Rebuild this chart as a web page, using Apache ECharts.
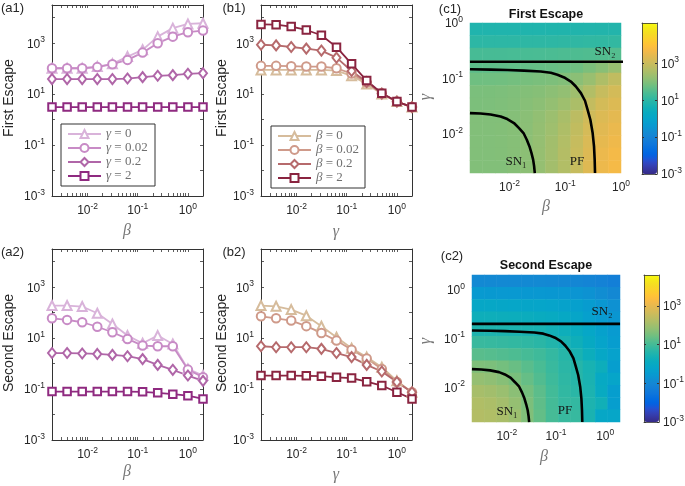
<!DOCTYPE html>
<html>
<head>
<meta charset="utf-8">
<title>First and second escape</title>
<script src="https://cdn.jsdelivr.net/npm/echarts@6.0.0/dist/echarts.min.js"></script>
<style>
    html, body { margin: 0; padding: 0; background: #fff; }
    #chart { width: 685px; height: 486px; }
</style>
</head>
<body>
<div id="chart"></div>
<script>
// parameter values swept in the line panels (beta in a, gamma in b)
var sweep = [0.001953125, 0.00390625, 0.0078125, 0.015625, 0.03125, 0.0625, 0.125, 0.25, 0.5, 1, 2];

var gammaNames = ['γ = 0', 'γ = 0.02', 'γ = 0.2', 'γ = 2'];
var betaNames = ['β = 0', 'β = 0.02', 'β = 0.2', 'β = 2'];

// (a1) first escape vs beta
var a1Gamma0 = [104, 104, 104, 121, 155, 298, 550, 1810, 3900, 5710, 6060];
var a1Gamma002 = [104, 104, 104, 115, 150, 221, 427, 1000, 1810, 2700, 3120];
var a1Gamma02 = [39, 39, 39, 39, 39, 41, 46.5, 52.5, 55.6, 63, 66.5];
var a1Gamma2 = [3.1, 3.1, 3.1, 3.1, 3.1, 3.1, 3.1, 3.1, 3.1, 3.1, 3.1];

// (b1) first escape vs gamma
var b1Beta0 = [89, 89, 89, 89, 89, 84, 52.5, 25, 10.2, 5.1, 3.1];
var b1Beta002 = [129, 129, 125, 121, 121, 104, 64, 28.5, 10.8, 5.1, 3.1];
var b1Beta02 = [870, 820, 710, 613, 513, 270, 81, 30, 10.5, 5.1, 3.1];
var b1Beta2 = [5450, 5350, 4500, 3300, 2050, 700, 155, 34, 10.8, 5.1, 3.1];

// (a2) second escape vs beta
var a2Gamma0 = [190, 190, 174, 95, 36, 12.6, 6.3, 12.6, 5.9, 0.62, 0.34];
var a2Gamma002 = [60, 52, 42, 28, 17, 9.3, 5.1, 4.8, 4.8, 0.58, 0.29];
var a2Gamma02 = [2.6, 2.6, 2.5, 2.4, 2.2, 1.95, 1.5, 0.89, 0.57, 0.34, 0.21];
var a2Gamma2 = [0.08, 0.08, 0.08, 0.08, 0.08, 0.08, 0.078, 0.071, 0.063, 0.055, 0.041];

// (b2) second escape vs gamma
var b2Beta0 = [190, 178, 132, 76, 29.4, 10.9, 4.0, 1.8, 0.72, 0.21, 0.075];
var b2Beta002 = [72, 60, 49, 29.6, 16, 8, 3.5, 1.6, 0.62, 0.19, 0.075];
var b2Beta02 = [4.8, 4.4, 4.4, 4.4, 3.8, 2.6, 1.8, 0.89, 0.49, 0.19, 0.075];
var b2Beta2 = [0.34, 0.34, 0.34, 0.33, 0.32, 0.29, 0.27, 0.195, 0.138, 0.075, 0.041];

// bifurcation curves drawn over the maps (beta, gamma)
var pfBeta = [0.00195, 0.00457, 0.00912, 0.0182, 0.0363, 0.055, 0.0724, 0.0955, 0.126, 0.155, 0.191, 0.226, 0.252, 0.282, 0.31, 0.328, 0.337, 0.342];
var pfGamma = [0.146, 0.144, 0.142, 0.138, 0.133, 0.126, 0.116, 0.104, 0.0877, 0.0713, 0.0541, 0.0394, 0.027, 0.0179, 0.0103, 0.0059, 0.0034, 0.00195];
var sn1Beta = [0.00195, 0.00302, 0.00457, 0.00692, 0.00912, 0.012, 0.0148, 0.0178, 0.0204, 0.0228, 0.0247, 0.0265, 0.0276, 0.0284];
var sn1Gamma = [0.0236, 0.0232, 0.0223, 0.0205, 0.0184, 0.0156, 0.0126, 0.0103, 0.0078, 0.0059, 0.0045, 0.0034, 0.0026, 0.00195];
var sn2Beta = [0.00195, 2];
var sn2Gamma = [0.2, 0.2];

// (c1) log10 of first escape, rows from top (large gamma) to bottom, columns small -> large beta
var firstMapLog10 = [
    [0.82, 0.82, 0.82, 0.82, 0.82, 0.82, 0.83, 0.83, 0.84, 0.85, 0.86, 0.87],
    [1.02, 1.02, 1.02, 1.02, 1.03, 1.03, 1.04, 1.05, 1.06, 1.07, 1.08, 1.09],
    [1.35, 1.35, 1.36, 1.37, 1.38, 1.39, 1.40, 1.42, 1.44, 1.46, 1.48, 1.50],
    [1.60, 1.61, 1.62, 1.64, 1.67, 1.69, 1.71, 1.74, 1.80, 1.95, 2.10, 2.30],
    [1.79, 1.80, 1.82, 1.85, 1.89, 1.92, 1.96, 2.02, 2.12, 2.30, 2.60, 2.85],
    [1.93, 1.94, 1.96, 1.99, 2.03, 2.07, 2.13, 2.22, 2.38, 2.65, 2.95, 3.15],
    [1.95, 1.96, 1.98, 2.02, 2.08, 2.14, 2.23, 2.36, 2.56, 2.90, 3.15, 3.30],
    [2.02, 2.02, 2.02, 2.05, 2.11, 2.21, 2.33, 2.53, 2.80, 3.10, 3.30, 3.42],
    [2.02, 2.02, 2.03, 2.06, 2.12, 2.23, 2.38, 2.60, 2.88, 3.18, 3.38, 3.52],
    [2.02, 2.02, 2.03, 2.07, 2.13, 2.25, 2.42, 2.66, 2.96, 3.26, 3.46, 3.60],
    [2.02, 2.02, 2.03, 2.07, 2.14, 2.26, 2.44, 2.68, 3.00, 3.32, 3.55, 3.69],
    [2.02, 2.02, 2.02, 2.06, 2.13, 2.24, 2.44, 2.65, 2.96, 3.33, 3.57, 3.71]
];

// (c2) log10 of second escape, same layout
var secondMapLog10 = [
    [-0.94, -0.94, -0.94, -0.95, -0.95, -0.96, -0.97, -1.00, -1.04, -1.10, -1.17, -1.24],
    [-0.54, -0.55, -0.56, -0.57, -0.58, -0.59, -0.60, -0.62, -0.66, -0.74, -0.85, -0.98],
    [-0.10, -0.11, -0.13, -0.15, -0.17, -0.20, -0.24, -0.28, -0.36, -0.48, -0.62, -0.76],
    [0.24, 0.23, 0.21, 0.19, 0.16, 0.11, 0.04, -0.05, -0.18, -0.34, -0.50, -0.64],
    [0.52, 0.51, 0.50, 0.48, 0.46, 0.42, 0.34, 0.24, 0.08, -0.12, -0.32, -0.50],
    [0.87, 0.85, 0.82, 0.79, 0.75, 0.68, 0.58, 0.44, 0.26, 0.02, -0.22, -0.45],
    [1.22, 1.19, 1.15, 1.10, 1.03, 0.94, 0.81, 0.64, 0.44, 0.18, -0.10, -0.30],
    [1.62, 1.58, 1.50, 1.38, 1.22, 1.06, 0.87, 0.70, 0.62, 0.42, 0.20, -0.40],
    [1.86, 1.80, 1.70, 1.55, 1.35, 1.14, 0.92, 0.74, 0.64, 0.45, 0.00, -0.20],
    [2.10, 2.03, 1.92, 1.75, 1.50, 1.25, 0.98, 0.78, 0.68, 0.48, 0.05, -0.40],
    [2.22, 2.16, 2.05, 1.86, 1.58, 1.28, 1.00, 0.82, 0.80, 0.50, 0.30, -0.40],
    [2.26, 2.22, 2.14, 1.95, 1.64, 1.32, 1.02, 0.86, 0.85, 0.45, -0.10, -0.15]
];

var escapeTickLabels = [0.001, 0.1, 10, 1000];
var paramTickLabels = [0.01, 0.1, 1];

var sansFont = '"Liberation Sans", Arial, Helvetica, sans-serif';
var serifFont = '"Liberation Serif", "DejaVu Serif", serif';
var ink = '#262626';
var frameColor = '#333333';

var gammaColors = ['#d9b3da', '#c88bc6', '#b066a8', '#8f2a80'];
var betaColors = ['#d6bc9c', '#cf9a8a', '#b66a6c', '#8a2440'];
var markers = ['emptyTriangle', 'emptyCircle', 'emptyDiamond', 'emptyRect'];
var markerSizes = [9, 8.5, [8, 10], 7.5];

var parula = [
    '#352a87', '#363093', '#3637a0', '#353dad', '#3243ba', '#2c4ac7', '#2053d4', '#0f5cdd',
    '#0363e1', '#0268e1', '#046de0', '#0871de', '#0d75dc', '#1079da', '#127dd8', '#1481d6',
    '#1485d4', '#1389d3', '#108ed2', '#0c93d2', '#0998d1', '#079ccf', '#06a0cd', '#06a4ca',
    '#06a7c6', '#07a9c2', '#0aacbe', '#0faeb9', '#15b1b4', '#1db3af', '#25b5a9', '#2eb7a4',
    '#38b99e', '#42bb98', '#4dbc92', '#59bd8c', '#65be86', '#71bf80', '#7cbf7b', '#87bf77',
    '#92bf73', '#9cbf6f', '#a5be6b', '#aebe67', '#b7bd64', '#c0bc60', '#c8bc5d', '#d1bb59',
    '#d9ba56', '#e1b952', '#e9b94e', '#f1b94a', '#f8bb44', '#fdbe3d', '#ffc337', '#fec832',
    '#fcce2e', '#fad32a', '#f7d826', '#f5de21', '#f5e41d', '#f5eb18', '#f6f313', '#f9fb0e'
];

var option = {
    animation: false,
    backgroundColor: '#ffffff',
    textStyle: { fontFamily: sansFont },
    grid: [], xAxis: [], yAxis: [], series: [], legend: [], visualMap: [], graphic: []
};

function powLabel(v) {
    return '{b|10}{s|' + Math.round(Math.log10(v)) + '}';
}

var powRich = {
    b: { fontFamily: sansFont, fontSize: 12, color: ink, lineHeight: 14, verticalAlign: 'bottom' },
    s: { fontFamily: sansFont, fontSize: 8.5, color: ink, lineHeight: 10, verticalAlign: 'bottom', padding: [0, 0, 6, 0] }
};

function minorTicks(lo, hi) {
    var out = [];
    for (var d = -3; d <= 0; d++) {
        for (var m = 1; m <= 9; m++) {
            var v = Number((m * Math.pow(10, d)).toPrecision(2));
            if (v >= lo && v <= hi) out.push(v);
        }
    }
    return out;
}

function addGrid(box) {
    option.grid.push({ left: box[0], top: box[1], width: box[2], height: box[3], outerBoundsMode: 'none', containLabel: false });
    return option.grid.length - 1;
}

function frameAxis(gi, pos, range, labels, ticks) {
    return {
        type: 'log', gridIndex: gi, position: pos, min: range[0], max: range[1],
        axisLine: { show: true, onZero: false, lineStyle: { color: frameColor, width: 1 } },
        axisTick: { show: true, inside: true, length: 3, customValues: ticks, lineStyle: { color: frameColor, width: 0.8 } },
        axisLabel: labels ? { show: true, customValues: labels, formatter: powLabel, rich: powRich, margin: 7 } : { show: false },
        splitLine: { show: false }
    };
}

function linePanel(box, lists, names, colors, legendPos) {
    var gi = addGrid(box);
    var xRange = [sweep[0], sweep[sweep.length - 1]];
    var yRange = [0.001, Math.pow(10, 4.5)];
    var xi = option.xAxis.length, yi = option.yAxis.length;
    option.xAxis.push(frameAxis(gi, 'bottom', xRange, paramTickLabels, minorTicks(xRange[0], xRange[1])));
    option.xAxis.push(frameAxis(gi, 'top', xRange, null, minorTicks(xRange[0], xRange[1])));
    var yTicks = [0.001, 0.01, 0.1, 1, 10, 100, 1000, 10000];
    option.yAxis.push(frameAxis(gi, 'left', yRange, escapeTickLabels, yTicks));
    option.yAxis.push(frameAxis(gi, 'right', yRange, null, yTicks));

    lists.forEach(function (ys, k) {
        option.series.push({
            type: 'line', name: names[k], xAxisIndex: xi, yAxisIndex: yi, silent: true,
            data: sweep.map(function (x, i) { return [x, ys[i]]; }),
            symbol: markers[k], symbolSize: markerSizes[k], showAllSymbol: true,
            lineStyle: { color: colors[k], width: 1.8 },
            itemStyle: { color: colors[k], borderColor: colors[k], borderWidth: 1.5 },
            emphasis: { disabled: true }
        });
    });

    if (legendPos) {
        option.legend.push({
            data: names, orient: 'vertical', left: legendPos[0], top: legendPos[1],
            padding: [3, 1, 3, 6], itemGap: 0, itemWidth: 33, itemHeight: 10,
            selectedMode: false, borderColor: frameColor, borderWidth: 1, backgroundColor: '#fff',
            formatter: function (name) { return '{i|' + name.charAt(0) + '}' + name.slice(1); },
            textStyle: {
                fontFamily: serifFont, fontSize: 13, color: '#707070', lineHeight: 14, width: 48,
                rich: { i: { fontFamily: serifFont, fontStyle: 'italic', fontSize: 13, color: '#707070' } }
            }
        });
    }
}

function mapPanel(box, xRange, yRange, rows, colorMax, barBox, labels) {
    var gi = addGrid(box);
    var nx = rows[0].length, ny = rows.length;
    var cats = function (n) { var a = []; for (var i = 0; i < n; i++) a.push(String(i)); return a; };
    var cx = option.xAxis.length, cy = option.yAxis.length;
    option.xAxis.push({ type: 'category', gridIndex: gi, data: cats(nx), show: false });
    option.yAxis.push({ type: 'category', gridIndex: gi, data: cats(ny), inverse: true, show: false });
    var lx = option.xAxis.length, ly = option.yAxis.length;
    var plain = {
        axisLine: { show: false, onZero: false }, axisTick: { show: false }, splitLine: { show: false }
    };
    option.xAxis.push(Object.assign({
        type: 'log', gridIndex: gi, position: 'bottom', min: xRange[0], max: xRange[1],
        axisLabel: { customValues: paramTickLabels, formatter: powLabel, rich: powRich, margin: 7 }
    }, plain));
    option.yAxis.push(Object.assign({
        type: 'log', gridIndex: gi, position: 'left', min: yRange[0], max: yRange[1],
        axisLabel: { customValues: paramTickLabels, formatter: powLabel, rich: powRich, margin: 7 }
    }, plain));

    var cells = [];
    rows.forEach(function (row, j) {
        row.forEach(function (v, i) { cells.push([i, j, v]); });
    });
    var si = option.series.length;
    option.series.push({
        type: 'heatmap', xAxisIndex: cx, yAxisIndex: cy, data: cells, silent: true,
        itemStyle: { borderWidth: 0 }, emphasis: { disabled: true }, progressive: 0
    });

    [[sn2Beta, sn2Gamma], [pfBeta, pfGamma], [sn1Beta, sn1Gamma]].forEach(function (c) {
        option.series.push({
            type: 'line', xAxisIndex: lx, yAxisIndex: ly, silent: true, symbol: 'none', z: 4,
            data: c[0].map(function (b, i) { return [b, c[1][i]]; }),
            lineStyle: { color: '#000', width: 2.6 }, emphasis: { disabled: true }
        });
    });

    option.visualMap.push({
        type: 'continuous', seriesIndex: si, dimension: 2, min: -3, max: colorMax,
        calculable: false, hoverLink: false, orient: 'vertical', padding: 0,
        left: barBox[0], top: barBox[1], itemWidth: barBox[2], itemHeight: barBox[3],
        inRange: { color: parula }, textStyle: { color: 'transparent' }
    });

    // colour bar frame and its labels
    var bi = addGrid(barBox);
    var edge = function (pos) {
        return {
            type: 'value', gridIndex: bi, position: pos, min: 0, max: 1, z: 6,
            axisLine: { show: true, onZero: false, lineStyle: { color: frameColor, width: 0.8 } },
            axisTick: { show: false }, axisLabel: { show: false }, splitLine: { show: false }
        };
    };
    option.xAxis.push(edge('bottom'), edge('top'));
    var barRange = [0.001, Math.pow(10, colorMax)];
    option.yAxis.push({
        type: 'log', gridIndex: bi, position: 'left', min: barRange[0], max: barRange[1], z: 6,
        axisLine: { show: true, onZero: false, lineStyle: { color: frameColor, width: 0.8 } },
        axisTick: { show: true, inside: true, length: 2, customValues: escapeTickLabels, lineStyle: { color: frameColor } },
        axisLabel: { show: false }, splitLine: { show: false }
    });
    option.yAxis.push({
        type: 'log', gridIndex: bi, position: 'right', min: barRange[0], max: barRange[1], z: 6,
        axisLine: { show: true, onZero: false, lineStyle: { color: frameColor, width: 0.8 } },
        axisTick: { show: true, inside: true, length: 2, customValues: escapeTickLabels, lineStyle: { color: frameColor } },
        axisLabel: { customValues: escapeTickLabels, formatter: powLabel, rich: powRich, margin: 4 },
        splitLine: { show: false }
    });

    labels.forEach(function (t) {
        addText(t[0], t[1], t[2], { font: '13px ' + serifFont, fill: '#151515' });
    });
}

function addText(x, y, text, style, rotation) {
    option.graphic.push({
        type: 'text', x: x, y: y, rotation: rotation || 0, silent: true, z: 100,
        style: Object.assign({ text: text, align: 'center', verticalAlign: 'middle', fill: ink }, style)
    });
}

linePanel([52, 5, 151, 191], [a1Gamma0, a1Gamma002, a1Gamma02, a1Gamma2], gammaNames, gammaColors, [61, 124]);
linePanel([261, 5, 151, 191], [b1Beta0, b1Beta002, b1Beta02, b1Beta2], betaNames, betaColors, [271, 126]);
linePanel([52, 249, 151, 191], [a2Gamma0, a2Gamma002, a2Gamma02, a2Gamma2],
    gammaNames.map(function (n) { return 'a2 ' + n; }), gammaColors, null);
linePanel([261, 249, 151, 191], [b2Beta0, b2Beta002, b2Beta02, b2Beta2],
    betaNames.map(function (n) { return 'b2 ' + n; }), betaColors, null);

mapPanel([470, 23, 151, 150], [0.001953125, 1], [0.001953125, 1], firstMapLog10, 5.2, [642, 23, 15, 151],
    [[605, 52, 'SN₂'], [516, 162, 'SN₁'], [577, 162, 'PF']]);
mapPanel([472, 275, 148, 147], [0.001953125, 2], [0.001953125, 2], secondMapLog10, 4.6, [644, 275, 15, 147],
    [[602, 312, 'SN₂'], [507, 412, 'SN₁'], [565, 411, 'PF']]);

var panelFont = '13px ' + sansFont;
addText(12.5, 8, '(a1)', { font: panelFont });
addText(234, 8, '(b1)', { font: panelFont });
addText(450, 9, '(c1)', { font: panelFont });
addText(12.5, 252, '(a2)', { font: panelFont });
addText(234, 252, '(b2)', { font: panelFont });
addText(452, 256, '(c2)', { font: panelFont });

var titleFont = '14px ' + sansFont;
addText(9, 98, 'First Escape', { font: titleFont }, Math.PI / 2);
addText(222, 98, 'First Escape', { font: titleFont }, Math.PI / 2);
addText(9, 343, 'Second Escape', { font: titleFont }, Math.PI / 2);
addText(222, 343, 'Second Escape', { font: titleFont }, Math.PI / 2);

var boldFont = 'bold 12.5px ' + sansFont;
addText(546, 14.5, 'First Escape', { font: boldFont, fill: '#111' });
addText(546, 265.5, 'Second Escape', { font: boldFont, fill: '#111' });

var greekFont = 'italic 16px ' + serifFont;
var greekColor = '#777777';
addText(127, 231, 'β', { font: greekFont, fill: greekColor });
addText(336, 232, 'γ', { font: greekFont, fill: greekColor });
addText(127, 472, 'β', { font: greekFont, fill: greekColor });
addText(336, 475, 'γ', { font: greekFont, fill: greekColor });
addText(546, 207, 'β', { font: greekFont, fill: greekColor });
addText(544, 457, 'β', { font: greekFont, fill: greekColor });
addText(426, 97, 'γ', { font: greekFont, fill: greekColor }, Math.PI / 2);
addText(426, 341, 'γ', { font: greekFont, fill: greekColor }, Math.PI / 2);

var chart = echarts.init(document.getElementById('chart'), null, { renderer: 'canvas' });
chart.setOption(option);
</script>
</body>
</html>
